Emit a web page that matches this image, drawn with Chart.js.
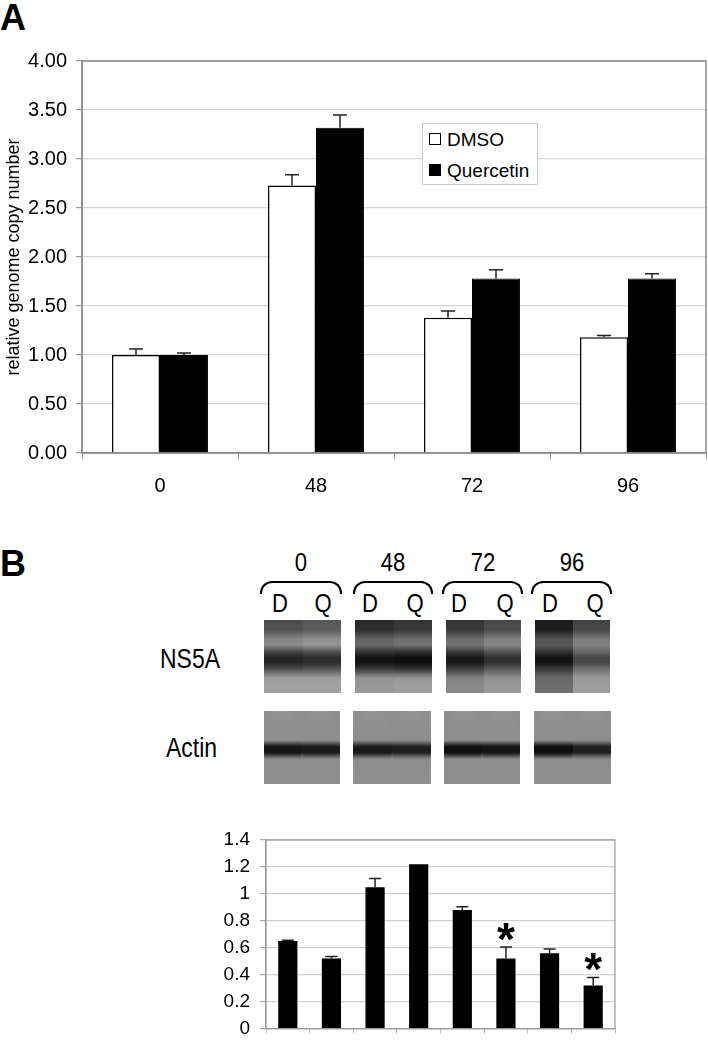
<!DOCTYPE html>
<html>
<head>
<meta charset="utf-8">
<script src="https://cdn.jsdelivr.net/npm/chart.js@4.4.0/dist/chart.umd.min.js"></script>
<style>
body{margin:0;background:#fff;font-family:"Liberation Sans",Arial,sans-serif;color:#000;}
#page{position:relative;width:708px;height:1050px;overflow:hidden;background:#fff;}
.abs{position:absolute;}
.panel{font-weight:bold;font-size:36px;line-height:36px;}
.lbl{font-size:26px;line-height:26px;transform:scaleX(0.85);transform-origin:center;text-align:center;width:60px;margin-left:-30px;}
.bracket{border:2px solid #000;border-bottom:none;border-radius:12px 12px 0 0;height:13px;box-sizing:border-box;}
.blot{overflow:hidden;}
.lane{position:absolute;top:0;height:100%;}
#legendA{border:1px solid #c8c8c8;background:#fff;font-size:19px;line-height:19px;}
#legendA .sw{position:absolute;width:12px;height:12px;border:1.5px solid #000;box-sizing:border-box;}
</style>
</head>
<body>
<div id="page">
  <div class="abs panel" style="left:0;top:0;">A</div>
  <canvas id="chartA" class="abs" width="708" height="470" style="left:0;top:40px;"></canvas>
  <div id="legendA" class="abs" style="left:422px;top:123px;width:114px;height:60px;">
    <div class="sw" style="left:6px;top:9px;background:#fff;"></div>
    <div class="abs" style="left:24px;top:6px;">DMSO</div>
    <div class="sw" style="left:6px;top:40px;background:#000;"></div>
    <div class="abs" style="left:24px;top:37px;">Quercetin</div>
  </div>

  <div class="abs panel" style="left:0;top:546px;">B</div>
  <div id="blots"></div>
  <canvas id="chartB" class="abs" width="470" height="250" style="left:180px;top:800px;"></canvas>
</div>

<script>
// ---- panel A: relative genome copy number ----
var timepoints = ['0', '48', '72', '96'];
var dmso = [1.00, 2.73, 1.38, 1.18];
var dmsoErr = [0.06, 0.11, 0.07, 0.02];
var quercetin = [1.00, 3.32, 1.78, 1.78];
var quercetinErr = [0.02, 0.13, 0.09, 0.05];

// ---- panel B: NS5A / actin quantification ----
var lanes = ['0 D', '0 Q', '48 D', '48 Q', '72 D', '72 Q', '96 D', '96 Q'];
var ns5a = [0.65, 0.52, 1.05, 1.22, 0.88, 0.52, 0.56, 0.32];
var ns5aErr = [0.005, 0.015, 0.065, 0, 0.025, 0.085, 0.03, 0.06];
var signif = [false, false, false, false, false, true, false, true];

Chart.defaults.font.family = '"Liberation Sans", Arial, sans-serif';
Chart.defaults.color = '#000';
Chart.defaults.animation = false;

// draws the outer box of the plot area
var frame = {
  id: 'frame',
  afterDatasetsDraw: function(chart, args, opts) {
    var a = chart.chartArea, ctx = chart.ctx;
    ctx.save();
    ctx.strokeStyle = opts.color;
    ctx.lineWidth = opts.width;
    ctx.strokeRect(a.left, a.top, a.right - a.left, a.bottom - a.top);
    ctx.restore();
  }
};

// one-sided error bars (upward) + optional asterisks
var errorBars = {
  id: 'errorBars',
  afterDatasetsDraw: function(chart, args, opts) {
    var ctx = chart.ctx, y = chart.scales.y;
    chart.data.datasets.forEach(function(ds, i) {
      if (!ds.errors) return;
      var meta = chart.getDatasetMeta(i);
      meta.data.forEach(function(bar, j) {
        var e = ds.errors[j];
        var top = y.getPixelForValue(ds.data[j] + (e || 0));
        if (e) {
          ctx.save();
          ctx.strokeStyle = '#222';
          ctx.lineWidth = 1.5;
          ctx.beginPath();
          ctx.moveTo(bar.x, bar.y);
          ctx.lineTo(bar.x, top);
          ctx.moveTo(bar.x - opts.cap, top);
          ctx.lineTo(bar.x + opts.cap, top);
          ctx.stroke();
          ctx.restore();
        }
        if (ds.stars && ds.stars[j]) {
          ctx.save();
          ctx.font = 'bold 46px "Liberation Sans", Arial, sans-serif';
          ctx.textAlign = 'center';
          ctx.textBaseline = 'alphabetic';
          ctx.fillStyle = '#000';
          ctx.fillText('*', bar.x, top + 8);
          ctx.restore();
        }
      });
    });
  }
};

new Chart(document.getElementById('chartA'), {
  type: 'bar',
  data: {
    labels: timepoints,
    datasets: [
      {label: 'DMSO', data: dmso, errors: dmsoErr, backgroundColor: '#fff', borderColor: '#000', borderWidth: 1.5},
      {label: 'Quercetin', data: quercetin, errors: quercetinErr, backgroundColor: '#000', borderColor: '#000', borderWidth: 1}
    ]
  },
  options: {
    responsive: false,
    layout: {padding: {top: 21, right: 2, left: 0, bottom: 0}},
    datasets: {bar: {categoryPercentage: 0.615, barPercentage: 1}},
    plugins: {
      legend: {display: false},
      tooltip: {enabled: false},
      frame: {color: '#8c8c8c', width: 1.5},
      errorBars: {cap: 7}
    },
    scales: {
      x: {
        afterFit: function(s) { s.height = 57; },
        grid: {offset: true, drawOnChartArea: false, tickLength: 6, color: '#999'},
        border: {color: '#8c8c8c', width: 1.5},
        ticks: {font: {size: 20}, padding: 15}
      },
      y: {
        min: 0, max: 4,
        afterFit: function(s) { s.width = 82; },
        grid: {color: '#d6d6d6', lineWidth: 1.2, tickLength: 6, tickColor: '#999'},
        border: {color: '#8c8c8c', width: 1.5},
        ticks: {stepSize: 0.5, font: {size: 20}, padding: 9, callback: function(v) { return v.toFixed(2); }},
        title: {display: true, text: 'relative genome copy number', font: {size: 18}, padding: {top: 3, bottom: 0}}
      }
    }
  },
  plugins: [frame, errorBars]
});

new Chart(document.getElementById('chartB'), {
  type: 'bar',
  data: {
    labels: lanes,
    datasets: [
      {label: 'NS5A/actin', data: ns5a, errors: ns5aErr, stars: signif, backgroundColor: '#000', borderColor: '#000', borderWidth: 0}
    ]
  },
  options: {
    responsive: false,
    layout: {padding: {top: 40, right: 35, left: 0, bottom: 0}},
    datasets: {bar: {categoryPercentage: 1, barPercentage: 0.44}},
    plugins: {
      legend: {display: false},
      tooltip: {enabled: false},
      frame: {color: '#9a9a9a', width: 1.2},
      errorBars: {cap: 6}
    },
    scales: {
      x: {
        afterFit: function(s) { s.height = 10; },
        grid: {offset: true, drawOnChartArea: false, tickLength: 5, color: '#bbb'},
        border: {color: '#9a9a9a', width: 1.2},
        ticks: {display: false}
      },
      y: {
        min: 0, max: 1.4,
        afterFit: function(s) { s.width = 86; },
        grid: {color: '#d0d0d0', lineWidth: 1.2, tickLength: 6, tickColor: '#aaa'},
        border: {color: '#9a9a9a', width: 1.2},
        ticks: {stepSize: 0.2, font: {size: 19}, padding: 10, callback: function(v) { return String(Math.round(v * 10) / 10); }}
      }
    }
  },
  plugins: [frame, errorBars]
});

// ---- western blot sketch (decoration, not chart data) ----
var blotHtml = '';
var groupX = [[260, 342], [353, 433], [442, 523], [531, 612]];
var panelX = [[264, 341], [355, 432], [446, 521], [535, 610]];
var actinX = [[264, 340], [353, 431], [444, 520], [534, 611]];
var dqX = [[280, 323], [370, 415], [459, 505], [550, 595]];
// per-lane darkness of NS5A bands: [topBand, mainBand, lowerBand]
var ns5aLook = [
  [0.30, 0.15, 0.62], [0.34, 0.18, 0.62],
  [0.16, 0.08, 0.58], [0.20, 0.06, 0.60],
  [0.20, 0.10, 0.52], [0.28, 0.20, 0.58],
  [0.10, 0.08, 0.42], [0.26, 0.28, 0.60]
];
var actinLook = [0.08, 0.10, 0.10, 0.12, 0.06, 0.08, 0.05, 0.12];

function g(v) { var c = Math.round(v * 255); return 'rgb(' + c + ',' + c + ',' + c + ')'; }

for (var k = 0; k < 4; k++) {
  blotHtml += '<div class="abs lbl" style="left:' + ((groupX[k][0] + groupX[k][1]) / 2) + 'px;top:549px;">' + timepoints[k] + '</div>';
  blotHtml += '<div class="abs bracket" style="left:' + groupX[k][0] + 'px;top:581px;width:' + (groupX[k][1] - groupX[k][0]) + 'px;"></div>';
  blotHtml += '<div class="abs lbl" style="left:' + dqX[k][0] + 'px;top:590px;">D</div>';
  blotHtml += '<div class="abs lbl" style="left:' + dqX[k][1] + 'px;top:590px;">Q</div>';

  var w = panelX[k][1] - panelX[k][0];
  var inner = '';
  for (var h = 0; h < 2; h++) {
    var L = ns5aLook[k * 2 + h];
    var grad = 'linear-gradient(to bottom,' +
      g(L[0]) + ' 0%,' + g(L[0] + 0.03) + ' 14%,' + g(L[0] + 0.22) + ' 26%,' + g(L[0] + 0.25) + ' 34%,' +
      g(L[1] + 0.12) + ' 44%,' + g(L[1]) + ' 51%,' + g(L[1]) + ' 59%,' + g(L[1] + 0.15) + ' 67%,' +
      g(L[2]) + ' 80%,' + g(L[2] + 0.02) + ' 100%)';
    inner += '<div class="lane" style="left:' + (h * w / 2) + 'px;width:' + (w / 2 + 1) + 'px;background:' + grad + ';"></div>';
  }
  blotHtml += '<div class="abs blot" style="left:' + panelX[k][0] + 'px;top:620px;width:' + w + 'px;height:73px;background:#999;">' + inner + '</div>';

  var wa = actinX[k][1] - actinX[k][0];
  var innerA = '';
  for (var h2 = 0; h2 < 2; h2++) {
    var d = actinLook[k * 2 + h2];
    var gradA = 'linear-gradient(to bottom,#939393 0%,#8d8d8d 40%,' + g(d + 0.2) + ' 45%,' + g(d) + ' 49%,' + g(d) + ' 57%,' + g(d + 0.2) + ' 61%,#8d8d8d 66%,#8f8f8f 100%)';
    innerA += '<div class="lane" style="left:' + (h2 * wa / 2) + 'px;width:' + (wa / 2) + 'px;border-radius:45%;background:' + gradA + ';"></div>';
  }
  blotHtml += '<div class="abs blot" style="left:' + actinX[k][0] + 'px;top:711px;width:' + wa + 'px;height:73px;background:#8f8f8f;">' + innerA + '</div>';
}
blotHtml += '<div class="abs" style="left:160px;top:646px;font-size:27px;line-height:27px;transform:scaleX(0.85);transform-origin:left;">NS5A</div>';
blotHtml += '<div class="abs" style="left:166px;top:735px;font-size:27px;line-height:27px;transform:scaleX(0.85);transform-origin:left;">Actin</div>';
document.getElementById('blots').innerHTML = blotHtml;
</script>
</body>
</html>
